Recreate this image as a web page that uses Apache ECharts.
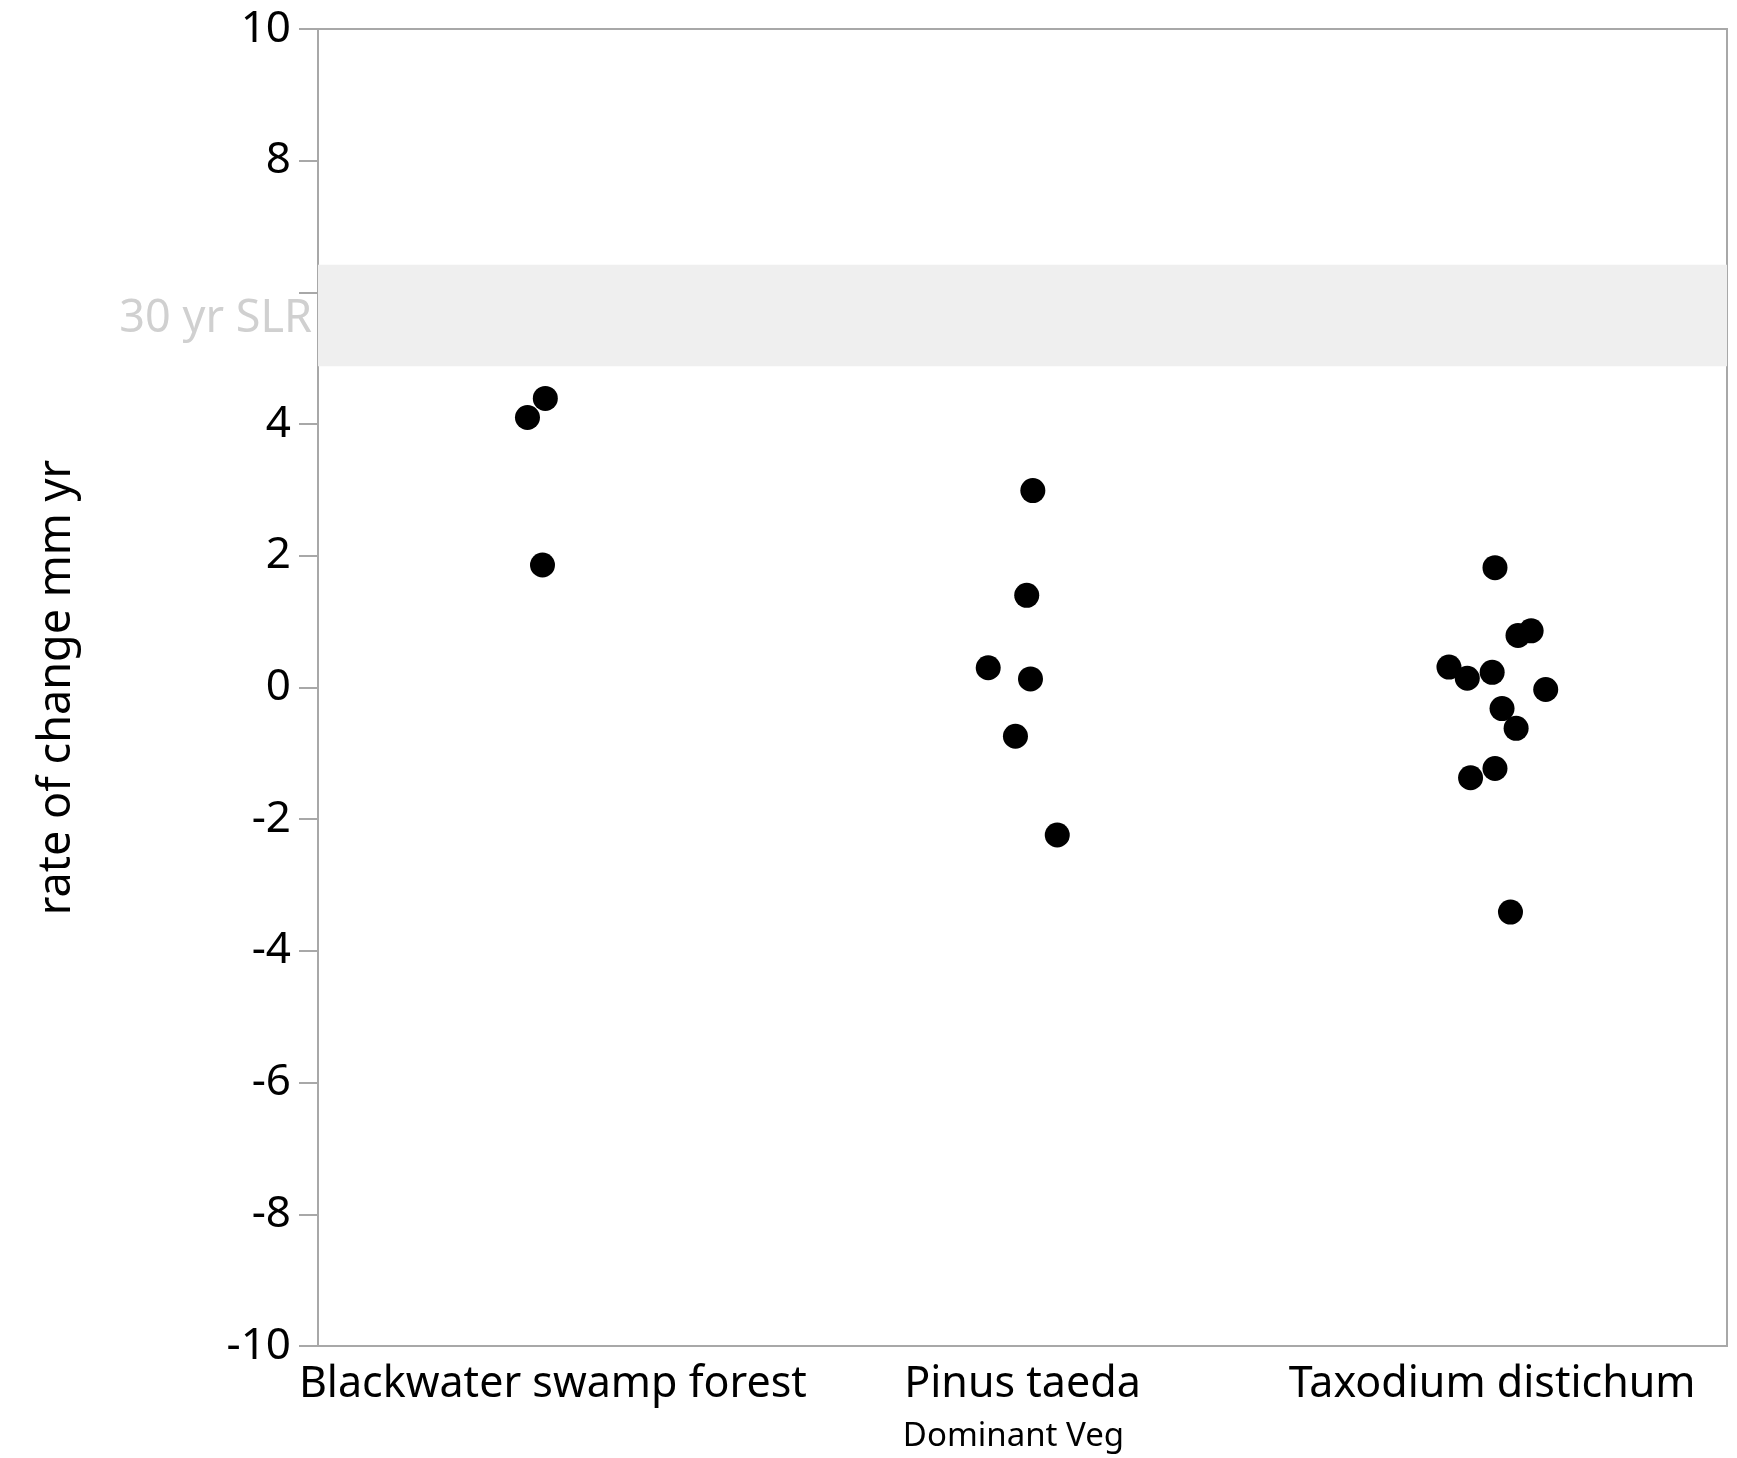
<!DOCTYPE html>
<html>
<head>
<meta charset="utf-8">
<script src="https://cdn.jsdelivr.net/npm/echarts@6/dist/echarts.min.js"></script>
<style>
html,body{margin:0;padding:0;background:#fff;}
#chart{width:1737px;height:1458px;}
</style>
</head>
<body>
<div id="chart"></div>
<script>
// Categories (x axis)
const categories = ["Blackwater swamp forest", "Pinus taeda", "Taxodium distichum"];
// y-axis tick values
const yTicks = [-10, -8, -6, -4, -2, 0, 2, 4, 6, 8, 10];
// 30 yr SLR band (mm/yr)
const slrBand = [4.88, 6.42];
const slrLabel = "30 yr SLR";

// Values per category (rate of change, mm/yr)
const blackwaterValues = [4.39, 4.10, 1.86];
const pinusValues = [2.99, 1.40, 0.30, 0.13, -0.74, -2.24];
const taxodiumValues = [1.82, 0.79, 0.86, 0.31, 0.14, 0.23, -0.03, -0.32, -0.62, -1.23, -1.37, -3.41];

// Horizontal jitter (fraction of category width)
const blackwaterJitter = [-0.016, -0.054, -0.022];
const pinusJitter = [0.022, 0.009, -0.073, 0.017, -0.015, 0.074];
const taxodiumJitter = [0.006, 0.055, 0.083, -0.092, -0.053, 0.0, 0.114, 0.021, 0.051, 0.006, -0.046, 0.039];

const groups = [
  [blackwaterValues, blackwaterJitter],
  [pinusValues, pinusJitter],
  [taxodiumValues, taxodiumJitter]
];
const points = [];
groups.forEach(function (g, ci) {
  g[0].forEach(function (v, i) { points.push([ci + g[1][i], v]); });
});

const FONT = "'Noto Sans', 'Open Sans', sans-serif";
const chart = echarts.init(document.getElementById('chart'), null, {renderer: 'canvas'});
chart.setOption({
  backgroundColor: '#ffffff',
  animation: false,
  grid: {
    left: 318, right: 10, top: 29, bottom: 110,
    show: true, borderColor: '#a8a8a8', borderWidth: 2, backgroundColor: 'transparent'
  },
  xAxis: [{
    type: 'category',
    data: categories,
    boundaryGap: true,
    axisLine: {show: true, onZero: false, lineStyle: {color: '#a8a8a8', width: 2}},
    axisTick: {show: false},
    axisLabel: {color: '#000', fontSize: 43, fontFamily: FONT, margin: 17, interval: 0},
    splitLine: {show: false},
    name: 'Dominant Veg',
    nameLocation: 'middle',
    nameGap: 74,
    nameTextStyle: {color: '#000', fontSize: 33, fontFamily: FONT, padding: [0, 18, 0, 0]}
  }, {
    type: 'value',
    min: -0.5, max: 2.5,
    show: false,
    axisLine: {onZero: false}
  }],
  yAxis: {
    type: 'value',
    min: yTicks[0], max: yTicks[yTicks.length - 1], interval: 2,
    axisLine: {show: true, onZero: false, lineStyle: {color: '#a8a8a8', width: 2}},
    axisTick: {show: true, inside: false, length: 19, lineStyle: {color: '#a8a8a8', width: 2}},
    axisLabel: {
      color: '#000', fontSize: 44, fontFamily: FONT, margin: 27,
      formatter: function (v) { return v === 6 ? '' : String(v); }
    },
    splitLine: {show: false},
    name: 'rate of change mm yr',
    nameLocation: 'middle',
    nameGap: 238,
    nameRotate: 90,
    nameTextStyle: {color: '#000', fontSize: 45, fontFamily: FONT}
  },
  series: [{
    type: 'scatter',
    xAxisIndex: 1,
    yAxisIndex: 0,
    symbol: 'circle',
    symbolSize: 25,
    itemStyle: {color: '#000', opacity: 1},
    data: points,
    z: 5,
    markArea: {
      silent: true,
      itemStyle: {color: '#efefef'},
      label: {
        show: true, position: 'left', distance: 6, offset: [0, 4],
        color: '#d0d0d0', fontSize: 45, fontFamily: FONT
      },
      data: [[{yAxis: slrBand[1], name: slrLabel}, {yAxis: slrBand[0]}]]
    }
  }]
});
</script>
</body>
</html>
